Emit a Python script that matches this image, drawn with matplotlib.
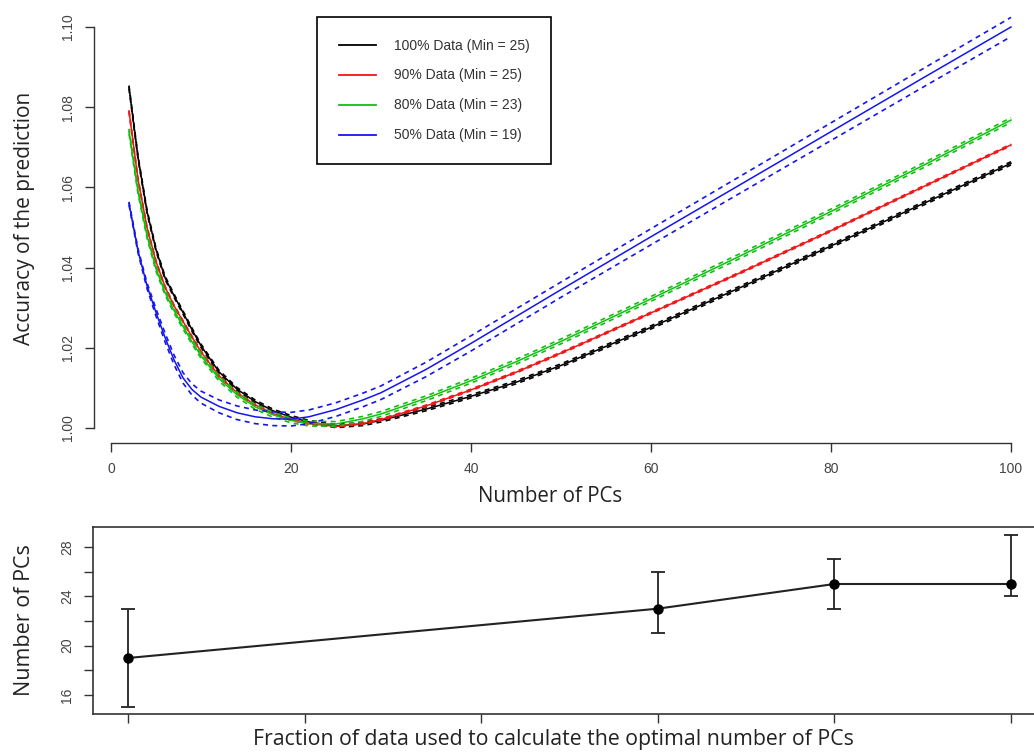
import matplotlib.pyplot as plt
from matplotlib.lines import Line2D

# number of PCs used in the prediction
n_pcs = [2, 3, 4, 5, 6, 7, 8, 9, 10, 12, 14, 16, 18, 20, 22, 25, 28, 30,
         35, 40, 45, 50, 60, 70, 80, 90, 100]

# accuracy of the prediction for each fraction of the data
acc_100 = [1.0850, 1.0675, 1.0540, 1.0445, 1.0375, 1.0330, 1.0288, 1.0245,
           1.0205, 1.0140, 1.0097, 1.0066, 1.0043, 1.0027, 1.0015, 1.0005,
           1.0010, 1.0019, 1.0047, 1.0079, 1.0114, 1.0156, 1.0251, 1.0351,
           1.0454, 1.0557, 1.0660]
acc_90 = [1.0790, 1.0620, 1.0500, 1.0415, 1.0352, 1.0305, 1.0266, 1.0227,
          1.0190, 1.0130, 1.0088, 1.0058, 1.0036, 1.0021, 1.0011, 1.0004,
          1.0011, 1.0021, 1.0055, 1.0095, 1.0139, 1.0187, 1.0287, 1.0388,
          1.0492, 1.0599, 1.0706]
acc_80 = [1.0740, 1.0590, 1.0480, 1.0397, 1.0338, 1.0293, 1.0253, 1.0215,
          1.0180, 1.0123, 1.0083, 1.0053, 1.0033, 1.0019, 1.0011, 1.0010,
          1.0023, 1.0035, 1.0074, 1.0118, 1.0165, 1.0216, 1.0322, 1.0430,
          1.0540, 1.0652, 1.0768]
acc_50 = [1.0560, 1.0442, 1.0355, 1.0288, 1.0226, 1.0170, 1.0125, 1.0096,
          1.0077, 1.0054, 1.0038, 1.0028, 1.0023, 1.0022, 1.0028, 1.0046,
          1.0070, 1.0088, 1.0146, 1.0211, 1.0278, 1.0345, 1.0477, 1.0608,
          1.0739, 1.0870, 1.1000]

# half width of the dashed bands around each curve
band_100 = [0.0004] * len(n_pcs)
band_90 = [0.0002] * len(n_pcs)
band_80 = [0.0006] * len(n_pcs)
band_50 = [0.0004, 0.0005, 0.0007, 0.0009, 0.0011, 0.0012, 0.0013, 0.0014,
           0.0015, 0.0016, 0.0017, 0.0017, 0.0017, 0.0017, 0.0017, 0.0017,
           0.0017, 0.0017, 0.0018, 0.0019, 0.0019, 0.0019, 0.0020, 0.0021,
           0.0022, 0.0023, 0.0024]

labels = ["100% Data (Min = 25)", "90% Data (Min = 25)",
          "80% Data (Min = 23)", "50% Data (Min = 19)"]
colors = ["black", "#f01818", "#10c010", "#1515f0"]

# optimal number of PCs for each fraction of the data
fractions = [50, 80, 90, 100]
opt_pcs = [19, 23, 25, 25]
opt_low = [15, 21, 23, 24]
opt_high = [23, 26, 27, 29]
frac_ticks = [50, 60, 70, 80, 90, 100]
pc_ticks = [16, 18, 20, 22, 24, 26, 28]
pc_ticklabels = ["16", "", "20", "", "24", "", "28"]

W, H = 1034, 753
fig = plt.figure(figsize=(W / 100, H / 100), dpi=100)

label_font = "Open Sans"
tick_font = "Liberation Sans"
axis_col = "#333333"


def add_axes_px(left, top, right, bottom):
    return fig.add_axes([left / W, 1 - bottom / H, (right - left) / W, (bottom - top) / H])


def style_ticks(ax):
    ax.tick_params(direction="out", length=6.5, width=1.0, color=axis_col,
                   labelcolor="#444444", labelsize=10, pad=7)
    for lab in ax.get_xticklabels() + ax.get_yticklabels():
        lab.set_fontfamily(tick_font)
    for lab in ax.get_yticklabels():
        lab.set_rotation(90)
        lab.set_va("center")


# top panel: accuracy curves
ax = add_axes_px(94, 11, 1046, 443)
curves = [acc_100, acc_90, acc_80, acc_50]
bands = [band_100, band_90, band_80, band_50]
for acc, band, col in zip(curves, bands, colors):
    ax.plot(n_pcs, acc, color=col, lw=1.1)
    lo = [a - b for a, b in zip(acc, band)]
    hi = [a + b for a, b in zip(acc, band)]
    ax.plot(n_pcs, lo, color=col, lw=1.2, ls=(0, (3, 2.6)))
    ax.plot(n_pcs, hi, color=col, lw=1.2, ls=(0, (3, 2.6)))

ax.set_xlim(-17 / 9, 935 / 9)
ax.set_ylim(1 - 15 / 4010, 1 + 417 / 4010)
ax.set_xticks([0, 20, 40, 60, 80, 100])
ax.set_yticks([1.00, 1.02, 1.04, 1.06, 1.08, 1.10])
ax.set_yticklabels(["1.00", "1.02", "1.04", "1.06", "1.08", "1.10"])
for side in ["top", "right"]:
    ax.spines[side].set_visible(False)
ax.spines["left"].set_bounds(1.00, 1.10)
ax.spines["bottom"].set_bounds(0, 100)
for side in ["left", "bottom"]:
    ax.spines[side].set_color(axis_col)
    ax.spines[side].set_linewidth(1.0)
style_ticks(ax)

handles = [Line2D([0], [0], color=c, lw=1.3) for c in colors]
leg = ax.legend(handles, labels, loc="upper left",
                bbox_to_anchor=(317 / W, 1 - 17 / H), bbox_transform=fig.transFigure,
                borderaxespad=0, fancybox=False, edgecolor="black", framealpha=1,
                prop={"family": tick_font, "size": 10}, handlelength=2.7,
                handletextpad=1.3, borderpad=1.55, labelspacing=1.15)
leg.get_frame().set_linewidth(1.2)
for t in leg.get_texts():
    t.set_color("#333333")

fig.text(25 / W, 1 - 218 / H, "Accuracy of the prediction", rotation=90,
         ha="center", va="center", fontsize=15, family=label_font, color="#222222")
fig.text(550 / W, 1 - 497 / H, "Number of PCs", ha="center", va="center",
         fontsize=14.8, family=label_font, color="#222222")

# bottom panel: optimal number of PCs
bx = add_axes_px(93, 527, 1046, 714)
yerr = [[o - l for o, l in zip(opt_pcs, opt_low)],
        [h - o for o, h in zip(opt_pcs, opt_high)]]
bx.errorbar(fractions, opt_pcs, yerr=yerr, color="#222222", lw=1.5,
            elinewidth=1.3, capsize=4.7, capthick=1.3, marker="o", ms=6.5,
            mfc="black", mec="black")
bx.set_xlim(50 - 35 / 17.66, 100 + 35 / 17.66)
bx.set_ylim(16 - 19 / 12.333, 28 + 20 / 12.333)
bx.set_xticks(frac_ticks)
bx.set_xticklabels([])
bx.set_yticks(pc_ticks)
bx.set_yticklabels(pc_ticklabels)
for side in bx.spines:
    bx.spines[side].set_color(axis_col)
    bx.spines[side].set_linewidth(1.2)
style_ticks(bx)

fig.text(25 / W, 1 - 620 / H, "Number of PCs", rotation=90, ha="center",
         va="center", fontsize=15.5, family=label_font, color="#222222")
fig.text(553 / W, 1 - 740 / H,
         "Fraction of data used to calculate the optimal number of PCs",
         ha="center", va="center", fontsize=15.3, family=label_font, color="#222222")

fig.savefig("out.png", dpi=100)
